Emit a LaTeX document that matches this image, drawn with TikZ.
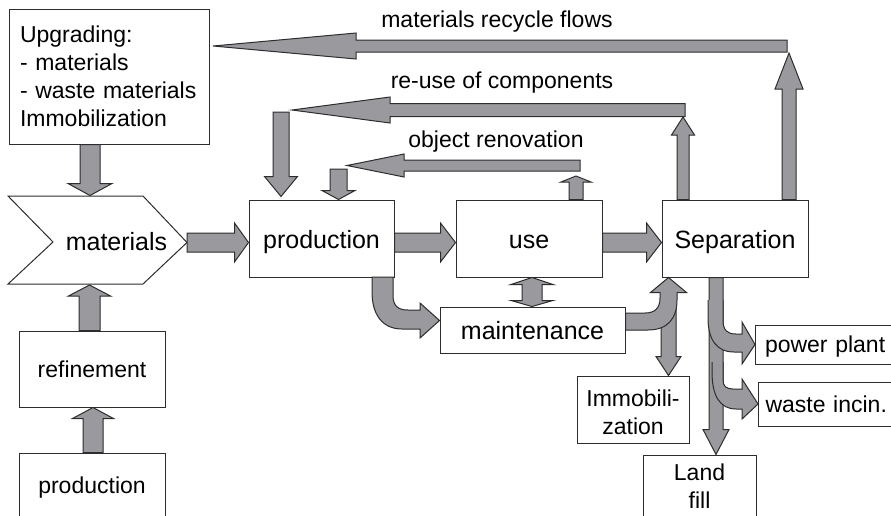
\documentclass[tikz,border=0pt]{standalone}
\usepackage{fontspec}
\setmainfont{Liberation Sans}
\usetikzlibrary{calc}
\definecolor{arrowfill}{RGB}{153,153,158}
\definecolor{edgecol}{RGB}{45,45,45}
\tikzset{
  fat/.style={fill=arrowfill, draw=edgecol, line width=1pt, line join=miter},
  boxline/.style={draw=edgecol, line width=1pt, fill=white},
  boxnode/.style={draw=edgecol, line width=1pt, fill=white, inner sep=0pt, align=center},
  bigtext/.style={font=\fontsize{25}{28}\selectfont},
  smalltext/.style={font=\fontsize{23}{28}\selectfont},
  bigone/.style={bigtext, text height=19pt, text depth=0pt},
  smallone/.style={smalltext, text height=16pt, text depth=0pt},
}
% fat arrows: #1 start, #2 end, #3 half shaft, #4 half head, #5 head length
\newcommand\fatR[5]{\filldraw[fat] let \p1=#1, \p2=#2 in
  (\x1,{\y1+#3pt}) -- ({\x2-#5pt},{\y1+#3pt}) -- ({\x2-#5pt},{\y1+#4pt}) -- (\x2,\y1)
  -- ({\x2-#5pt},{\y1-#4pt}) -- ({\x2-#5pt},{\y1-#3pt}) -- (\x1,{\y1-#3pt}) -- cycle;}
\newcommand\fatL[5]{\filldraw[fat] let \p1=#1, \p2=#2 in
  (\x1,{\y1+#3pt}) -- ({\x2+#5pt},{\y1+#3pt}) -- ({\x2+#5pt},{\y1+#4pt}) -- (\x2,\y1)
  -- ({\x2+#5pt},{\y1-#4pt}) -- ({\x2+#5pt},{\y1-#3pt}) -- (\x1,{\y1-#3pt}) -- cycle;}
\newcommand\fatU[5]{\filldraw[fat] let \p1=#1, \p2=#2 in
  ({\x1-#3pt},\y1) -- ({\x1-#3pt},{\y2-#5pt}) -- ({\x1-#4pt},{\y2-#5pt}) -- (\x1,\y2)
  -- ({\x1+#4pt},{\y2-#5pt}) -- ({\x1+#3pt},{\y2-#5pt}) -- ({\x1+#3pt},\y1) -- cycle;}
\newcommand\fatD[5]{\filldraw[fat] let \p1=#1, \p2=#2 in
  ({\x1-#3pt},\y1) -- ({\x1-#3pt},{\y2+#5pt}) -- ({\x1-#4pt},{\y2+#5pt}) -- (\x1,\y2)
  -- ({\x1+#4pt},{\y2+#5pt}) -- ({\x1+#3pt},{\y2+#5pt}) -- ({\x1+#3pt},\y1) -- cycle;}
% double vertical arrow: #1 top, #2 bottom, #3 half shaft, #4/#5 top head half/length, #6/#7 bottom head half/length
\newcommand\fatUD[7]{\filldraw[fat] let \p1=#1, \p2=#2 in
  (\x1,\y1) -- ({\x1+#4pt},{\y1-#5pt}) -- ({\x1+#3pt},{\y1-#5pt}) -- ({\x1+#3pt},{\y2+#7pt})
  -- ({\x1+#6pt},{\y2+#7pt}) -- (\x1,\y2) -- ({\x1-#6pt},{\y2+#7pt}) -- ({\x1-#3pt},{\y2+#7pt})
  -- ({\x1-#3pt},{\y1-#5pt}) -- ({\x1-#4pt},{\y1-#5pt}) -- cycle;}

\begin{document}
\begin{tikzpicture}[x=1pt,y=-1pt]
\useasboundingbox (0,0) rectangle (891,515);
\clip (0,0) rectangle (891,515);

% ---------- boxes ----------
\node[boxnode, smalltext, minimum width=200pt, minimum height=135pt, text width=178pt, align=left]
  (upg) at (109,76.5) {Upgrading:\\- materials\\- waste materials\\Immobilization};

\coordinate (chNW) at (8,196);
\coordinate (chNE) at (143,196);
\coordinate (matE) at (187,242.5);
\coordinate (chSE) at (143,284);
\coordinate (chSW) at (8,284);
\coordinate (chIn) at (53,242);
\draw[boxline] (chNW) -- (chNE) -- (matE) -- (chSE) -- (chSW) -- (chIn) -- cycle;
\node[bigtext] (mat) at (116.5,242) {materials};
\coordinate (matN) at (90,195.5);
\coordinate (matS) at (89.5,285);

\node[boxnode, bigone, minimum width=145pt, minimum height=77pt] (prod) at (321.5,238.5) {production};
\node[boxnode, bigone, minimum width=146pt, minimum height=77pt] (use) at (529,238.5) {use};
\node[boxnode, bigone, minimum width=146pt, minimum height=77pt] (sep) at (735,238.5) {Separation};
\node[boxnode, bigone, minimum width=185pt, minimum height=46pt] (maint) at (532.5,330) {maintenance};
\node[boxnode, smallone, minimum width=146pt, minimum height=76pt] (refin) at (92,369) {refinement};
\node[boxnode, smallone, minimum width=146pt, minimum height=64pt] (raw) at (92,485) {production};
\node[boxnode, smalltext, minimum width=112pt, minimum height=67pt] (immob) at (633,409.5)
  {\rule{0pt}{22pt}Immobili-\\zation};
\node[boxnode, smalltext, minimum width=113pt, minimum height=62pt] (land) at (699.5,486) {Land\\fill};
\node[boxnode, smallone, anchor=west, minimum width=145pt, minimum height=39pt, text width=126pt, align=left]
  (power) at (755,344.5) {power plant};
\node[boxnode, smallone, anchor=west, minimum width=142pt, minimum height=44pt, text width=128pt, align=left]
  (waste) at (758,404) {waste incin.};

% ---------- labels ----------
\node[smalltext, anchor=base] (lblRec) at (497,27) {materials recycle flows};
\node[smalltext, anchor=base] (lblReu) at (502,88) {re-use of components};
\node[smalltext, anchor=base] (lblRen) at (496,147) {object renovation};

% ---------- coordinates for free ends ----------
\coordinate (recUp) at (789,53);
\coordinate (recR) at (787,46);
\coordinate (recTip) at (213,46);
\coordinate (reuUp) at (683,117);
\coordinate (reuR) at (685,110);
\coordinate (reuTip) at (292,110);
\coordinate (reuDn) at (281,112);
\coordinate (renUp) at (576,176);
\coordinate (renR) at (580,165.5);
\coordinate (renTip) at (347,165.5);
\coordinate (renDn) at (338.5,169);

% ---------- straight arrows ----------
\fatD{($(upg.south)+(-19,0)$)}{(matN)}{10}{22}{12}
\fatU{($(refin.north)+(-2.5,0)$)}{(matS)}{10.5}{21}{11}
\fatU{($(raw.north)+(1,0)$)}{(refin.south)}{10}{20.5}{11}

\fatR{(matE)}{(prod.west)}{9.5}{19.5}{14}
\fatR{($(prod.east)+(0,4)$)}{(use.west)}{9.5}{19.5}{15}
\fatR{($(use.east)+(0,4)$)}{(sep.west)}{9.5}{19.5}{15}

\fatU{($(sep.north)+(54,0)$)}{(recUp)}{7}{14}{36}
\fatL{(recR)}{(recTip)}{6}{13}{143}

\fatU{($(sep.north)+(-52,0)$)}{(reuUp)}{6}{11.5}{18}
\fatL{(reuR)}{(reuTip)}{6.5}{13}{98}
\fatD{(reuDn)}{($(prod.north west)+(32,-3)$)}{8}{16.5}{20}

\fatU{($(use.north)+(47,0)$)}{(renUp)}{7}{15}{6}
\fatL{(renR)}{(renTip)}{5.5}{11.5}{57}
\fatD{(renDn)}{(prod.north)}{8.5}{16.5}{9}

\fatUD{($(use.south)+(3,0)$)}{(maint.north)}{10}{21}{7}{21}{6}
\fatUD{($(sep.south)+(-66.5,0)$)}{(immob.north)}{7.5}{18}{15}{12.5}{19}
\fatD{($(sep.south)+(-19,0)$)}{(land.north)}{7}{13}{25}

% ---------- curved arrows ----------
% production -> maintenance
\filldraw[fat] (372,277) -- (393,277) -- (393,295) .. controls (393,306) and (398,310) .. (408,310)
  -- (420,310) -- (420,303) -- (maint.west |- 0,320.5) -- (420,338) -- (420,329) -- (402,329)
  .. controls (382,329) and (372,314) .. (372,292) -- cycle;
% maintenance -> Separation
\filldraw[fat] (660,292) -- (660,298) .. controls (660,308) and (655,313) .. (645,313) -- (maint.east |- 0,313)
  -- (maint.east |- 0,330) -- (648,330) .. controls (668,330) and (677,318) .. (677,300) -- (677,292);
% Separation -> power plant
\filldraw[fat] (723,300) -- (723,320) .. controls (723,330) and (727,334) .. (736,334) -- (742,334)
  -- (742,322) -- (power.west) -- (742,364) -- (742,352) -- (734,352)
  .. controls (717,352) and (708,340) .. (708,318) -- (708,300);
% Separation -> waste incineration
\filldraw[fat] (723,362) -- (723,380) .. controls (723,386) and (726,389) .. (733,389) -- (742,389)
  -- (742,379) -- (waste.west) -- (742,419) -- (742,409) -- (736,409)
  .. controls (720,409) and (712,396) .. (712,372) -- (712,362);
\end{tikzpicture}
\end{document}
